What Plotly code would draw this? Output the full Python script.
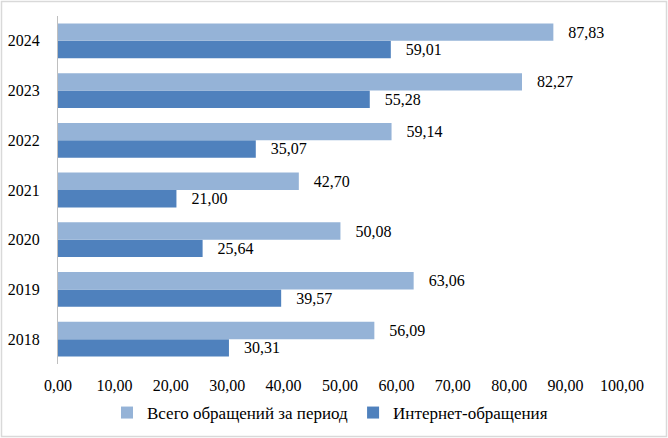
import plotly.graph_objects as go

years = ["2018", "2019", "2020", "2021", "2022", "2023", "2024"]
total = [56.09, 63.06, 50.08, 42.70, 59.14, 82.27, 87.83]
internet = [30.31, 39.57, 25.64, 21.00, 35.07, 55.28, 59.01]
name_total = "Всего обращений за период"
name_internet = "Интернет-обращения"

def fmt(v):
    return "   " + f"{v:.2f}".replace(".", ",")

font = dict(family="Liberation Serif", size=16, color="#000000")
legend_font = dict(family="Liberation Serif", size=17, color="#000000")

fig = go.Figure()
fig.add_trace(go.Bar(y=years, x=internet, orientation="h", name=name_internet,
                     marker=dict(color="#4F81BD", line=dict(width=0)),
                     text=[fmt(v) for v in internet], textposition="outside",
                     cliponaxis=False, legendrank=2, textfont=font))
fig.add_trace(go.Bar(y=years, x=total, orientation="h", name=name_total,
                     marker=dict(color="#95B3D7", line=dict(width=0)),
                     text=[fmt(v) for v in total], textposition="outside",
                     cliponaxis=False, legendrank=1, textfont=font))

W, H = 668, 438
ml, mr, mt, mb = 58, 46, 16, 74
pw, ph = W - ml - mr, H - mt - mb

fig.update_layout(
    width=W, height=H,
    margin=dict(l=ml, r=mr, t=mt, b=mb, pad=0, autoexpand=False),
    paper_bgcolor="white", plot_bgcolor="white",
    barmode="group", bargap=0.3, bargroupgap=0,
    separators=", ",
    font=font,
    showlegend=True,
    legend=dict(orientation="h", x=0.5 - 10 / pw, xanchor="center",
                y=-(413 - (H - mb)) / ph, yanchor="middle", font=legend_font,
                traceorder="normal"),
    xaxis=dict(range=[0, 100], dtick=10, tick0=0, tickformat=".2f", showgrid=False,
               showline=False, zeroline=False, ticks="", ticklabelstandoff=10,
               tickfont=font, fixedrange=True, automargin=False),
    yaxis=dict(showline=True, linecolor="#BFBFBF", linewidth=1, showgrid=False,
               ticks="", ticklabelstandoff=14, tickfont=font, fixedrange=True,
               automargin=False),
    shapes=[dict(type="rect", xref="paper", yref="paper",
                 x0=(1.5 - ml) / pw, x1=(W - 1.5 - ml) / pw,
                 y0=-(H - 1.5 - mt - ph) / ph, y1=(ph + mt - 1.5) / ph,
                 line=dict(color="#D9D9D9", width=1.5), fillcolor="rgba(0,0,0,0)",
                 layer="below")],
)

fig.write_html("out.html", config={"displayModeBar": False},
               post_script="document.body.style.margin='0';document.body.style.overflow='hidden';")
